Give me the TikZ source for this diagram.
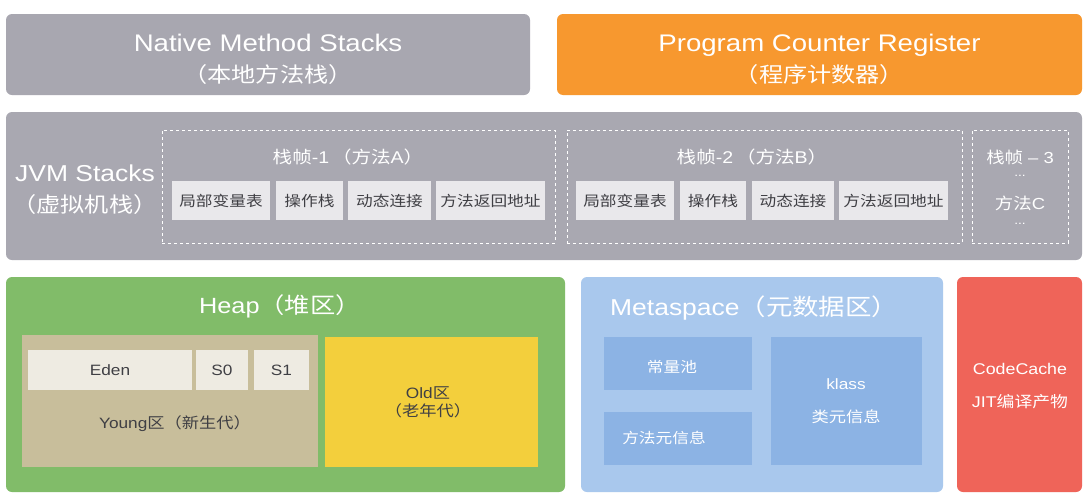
\documentclass[tikz,border=0pt]{standalone}
\usepackage{fontspec}
\setmainfont[FakeStretch=1.15]{Liberation Sans}
\newfontfamily\cjkfont[FakeStretch=1.15]{Noto Sans CJK SC}
\newcommand\zh[1]{{\cjkfont #1}}
\begin{document}
\begin{tikzpicture}[x=1pt,y=-1pt,
  blk/.style={rounded corners=6pt, draw=none, inner sep=0pt},
  cell/.style={draw=none, inner sep=0pt, fill=cellgray, text=textdark, font=\fontsize{14.5}{16}\selectfont},
  frame/.style={draw=white, dashed, line width=1pt, inner sep=0pt},
  wt/.style={text=white, inner sep=0pt},
]
\definecolor{natgray}{HTML}{A8A7B0}
\definecolor{orng}{HTML}{F7982F}
\definecolor{jvmgray}{HTML}{A9A8B1}
\definecolor{cellgray}{HTML}{E9E8EB}
\definecolor{textdark}{HTML}{3F3F44}
\definecolor{heapgreen}{HTML}{81BC69}
\definecolor{youngtan}{HTML}{C8BE9B}
\definecolor{edenbg}{HTML}{EEEBE2}
\definecolor{oldyellow}{HTML}{F3CF3C}
\definecolor{metablue}{HTML}{A9C8ED}
\definecolor{metainner}{HTML}{8CB3E4}
\definecolor{codered}{HTML}{EF6459}
\useasboundingbox (0,0) rectangle (1091,498);
\fill[white] (0,0) rectangle (1091,498);

% top row
\node[blk, fill=natgray, minimum width=524pt, minimum height=81pt] (native) at (268,54.5) {};
\node[wt, align=center, font=\fontsize{24}{31}\selectfont] (nativet) at (268,59) {Native Method Stacks\\\zh{\fontsize{21}{31}\selectfont（本地方法栈）}};
\node[blk, fill=orng, minimum width=525pt, minimum height=81pt] (pcr) at (819.5,54.5) {};
\node[wt, align=center, font=\fontsize{24}{31}\selectfont] (pcrt) at (819.5,59) {Program Counter Register\\\zh{\fontsize{21}{31}\selectfont（程序计数器）}};

% JVM stacks
\node[blk, fill=jvmgray, minimum width=1076pt, minimum height=148pt] (jvm) at (544,186) {};
\node[wt, align=center, font=\fontsize{23}{31}\selectfont] (jvmt) at (85,190) {JVM Stacks\\\zh{\fontsize{21}{31}\selectfont（虚拟机栈）}};

\node[frame, minimum width=393pt, minimum height=113pt] (f1) at (358.5,186.5) {};
\node[wt, font=\fontsize{17}{18}\selectfont] (f1t) at (348,157) {\zh{栈帧}-1\,\zh{（方法}A\zh{）}};
\node[cell, minimum width=98pt, minimum height=39pt] (a1) at (221,200.5) {\zh{局部变量表}};
\node[cell, minimum width=67pt, minimum height=39pt] (a2) at (309.5,200.5) {\zh{操作栈}};
\node[cell, minimum width=83pt, minimum height=39pt] (a3) at (389.5,200.5) {\zh{动态连接}};
\node[cell, minimum width=109pt, minimum height=39pt] (a4) at (490.5,200.5) {\zh{方法返回地址}};

\node[frame, minimum width=395pt, minimum height=113pt] (f2) at (764.5,186.5) {};
\node[wt, font=\fontsize{17}{18}\selectfont] (f2t) at (752,157) {\zh{栈帧}-2\,\zh{（方法}B\zh{）}};
\node[cell, minimum width=98pt, minimum height=39pt] (b1) at (625,200.5) {\zh{局部变量表}};
\node[cell, minimum width=66pt, minimum height=39pt] (b2) at (713,200.5) {\zh{操作栈}};
\node[cell, minimum width=82pt, minimum height=39pt] (b3) at (793,200.5) {\zh{动态连接}};
\node[cell, minimum width=109pt, minimum height=39pt] (b4) at (893.5,200.5) {\zh{方法返回地址}};

\node[frame, minimum width=96pt, minimum height=113pt] (f3) at (1020,186.5) {};
\node[wt, font=\fontsize{16}{18}\selectfont] (f3a) at (1020,157) {\zh{栈帧} – 3};
\node[wt, font=\fontsize{12}{14}\selectfont] (f3b) at (1020,176) {...};
\node[wt, font=\fontsize{16}{18}\selectfont] (f3c) at (1020,203) {\zh{方法}C};
\node[wt, font=\fontsize{12}{14}\selectfont] (f3d) at (1020,224) {...};

% Heap
\node[blk, fill=heapgreen, minimum width=559pt, minimum height=215pt] (heap) at (285.5,384.5) {};
\node[wt, font=\fontsize{22}{26}\selectfont] (heapt) at (280,306) {Heap\zh{（堆区）}};
\node[draw=none, inner sep=0pt, fill=youngtan, minimum width=296pt, minimum height=132pt] (young) at (170,401) {};
\node[draw=none, inner sep=0pt, fill=edenbg, text=textdark, font=\fontsize{15}{16}\selectfont, minimum width=164pt, minimum height=40pt] (eden) at (110,370) {Eden};
\node[draw=none, inner sep=0pt, fill=edenbg, text=textdark, font=\fontsize{15}{16}\selectfont, minimum width=52pt, minimum height=40pt] (s0) at (222,370) {S0};
\node[draw=none, inner sep=0pt, fill=edenbg, text=textdark, font=\fontsize{15}{16}\selectfont, minimum width=55pt, minimum height=40pt] (s1) at (281.5,370) {S1};
\node[text=textdark, inner sep=0pt, font=\fontsize{15}{16}\selectfont] (youngt) at (175,424) {Young\zh{区（新生代）}};
\node[draw=none, inner sep=0pt, fill=oldyellow, minimum width=213pt, minimum height=130pt] (old) at (431.5,402) {};
\node[text=textdark, inner sep=0pt, align=center, font=\fontsize{15}{18}\selectfont] (oldt) at (428,402) {Old\zh{区}\\\zh{（老年代）}};

% Metaspace
\node[blk, fill=metablue, minimum width=362pt, minimum height=215pt] (meta) at (762,384.5) {};
\node[wt, anchor=west, font=\fontsize{23}{28}\selectfont] (metat) at (610,308) {Metaspace\zh{（元数据区）}};
\node[draw=none, inner sep=0pt, fill=metainner, minimum width=148pt, minimum height=53pt] (pool) at (678,363.5) {};
\node[wt, font=\fontsize{14.5}{16}\selectfont] (poolt) at (672,367) {\zh{常量池}};
\node[draw=none, inner sep=0pt, fill=metainner, minimum width=148pt, minimum height=53pt] (mm) at (678,438.5) {};
\node[wt, font=\fontsize{14.5}{16}\selectfont] (mmt) at (664,438) {\zh{方法元信息}};
\node[draw=none, inner sep=0pt, fill=metainner, minimum width=151pt, minimum height=128pt] (klass) at (846.5,401) {};
\node[wt, align=center, font=\fontsize{15}{33}\selectfont] (klasst) at (846,401) {klass\\\zh{类元信息}};

% CodeCache
\node[blk, fill=codered, minimum width=125pt, minimum height=215pt] (cc) at (1019.5,384.5) {};
\node[wt, align=center, font=\fontsize{15.5}{33}\selectfont] (cct) at (1020,386) {CodeCache\\JIT\zh{编译产物}};
\end{tikzpicture}
\end{document}
